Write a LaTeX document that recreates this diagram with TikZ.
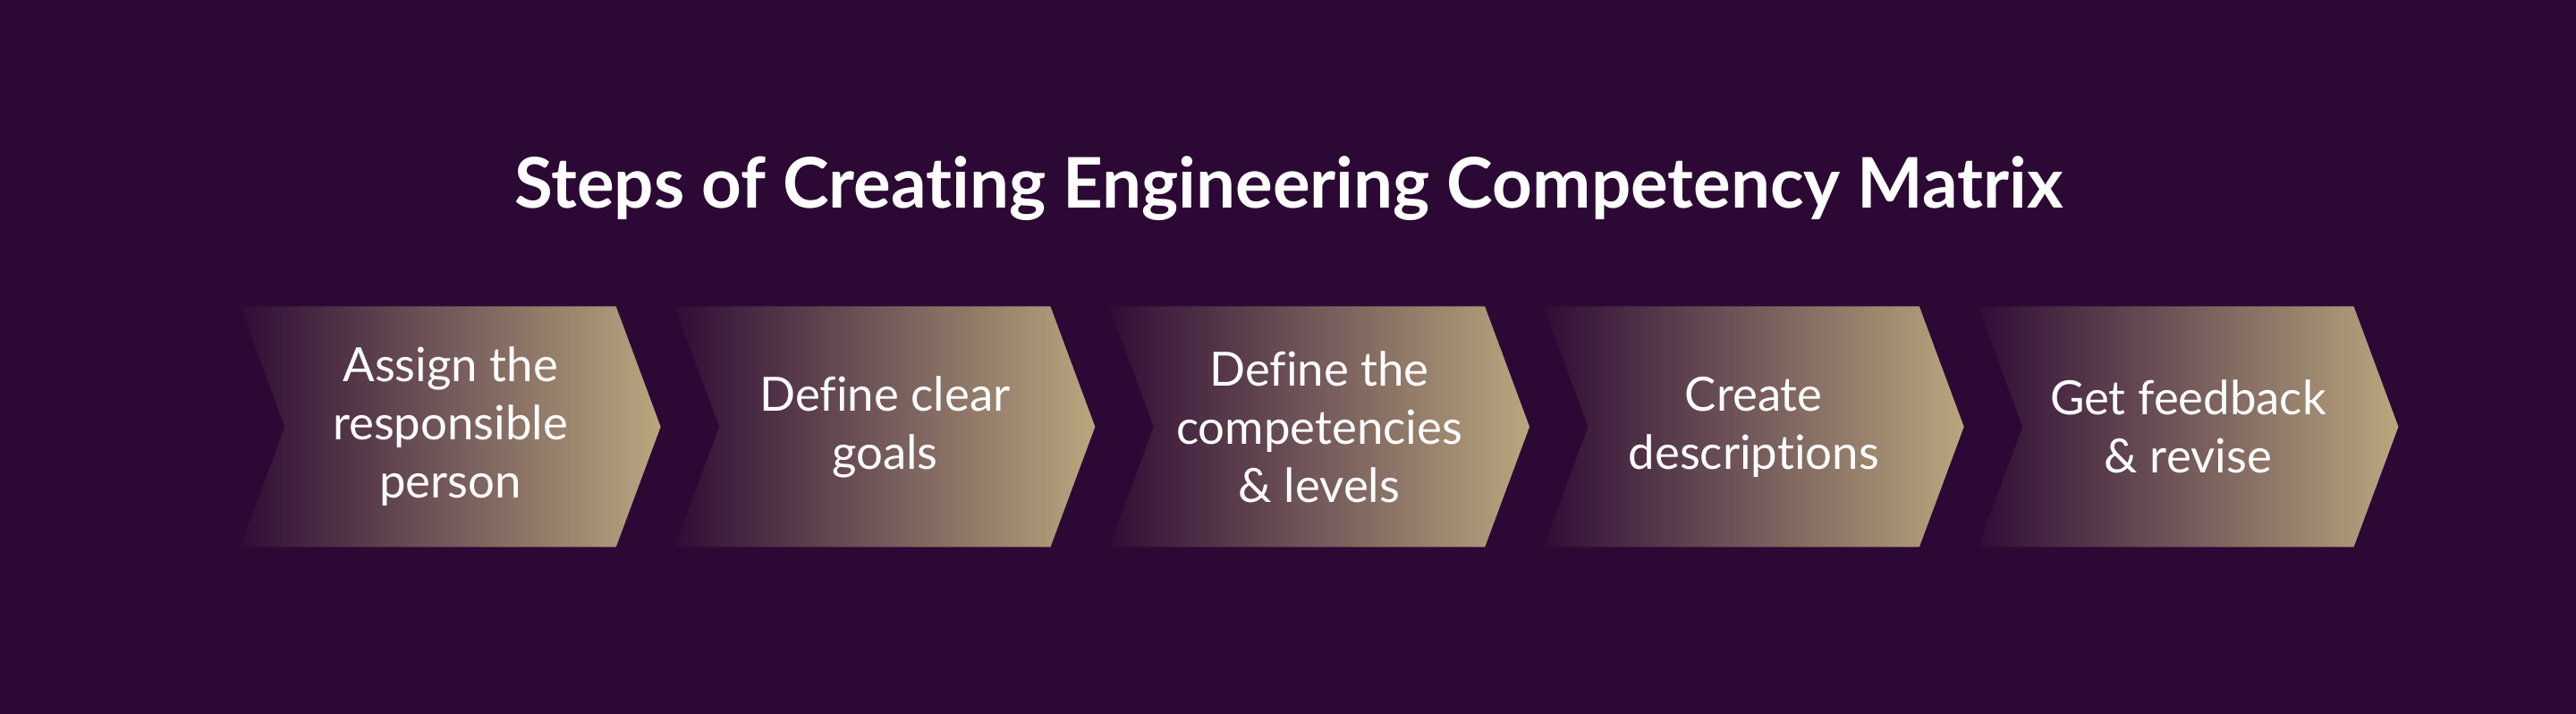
\documentclass[tikz,border=0pt]{standalone}
\usepackage{fontspec}
\setmainfont{Lato}[Ligatures=NoCommon]
\usetikzlibrary{shapes.symbols}
\definecolor{bgpurple}{HTML}{2C0934}
\definecolor{stepdark}{HTML}{2F0D36}
\definecolor{stepgold}{HTML}{B9A77E}
\begin{document}
\begin{tikzpicture}[scale=1]


	\tikzstyle{stepbox}=[signal, signal from=west, signal to=east, signal pointer angle=139.3, minimum width=4.7cm, minimum height=2.69cm, inner sep=0pt, outer sep=0pt, left color=stepdark, right color=stepgold, text=white, align=center, font=\fontsize{15}{18.5}\selectfont]
	\tikzstyle{heading}=[text=white, anchor=base, font=\bfseries\fontsize{22.2}{26}\selectfont]

	\fill[bgpurple] (0,0) rectangle (28.8,7.98);

	\node[heading] (title) at (14.41,5.653) {Steps of Creating Engineering Competency Matrix};

	\node[stepbox] (s1) at (5.036,3.21) {Assign the\\responsible\\person};

	\node[stepbox] (s2) at (9.893,3.21) {Define clear\\goals};

	\node[stepbox] (s3) at (14.750,3.21) {Define the\\competencies\\\& levels};

	\node[stepbox] (s4) at (19.607,3.21) {Create\\descriptions};

	\node[stepbox] (s5) at (24.464,3.21) {Get feedback\\\& revise};

%	\draw[->] (s1) -- (s2);
	\end{tikzpicture}
\end{document}
